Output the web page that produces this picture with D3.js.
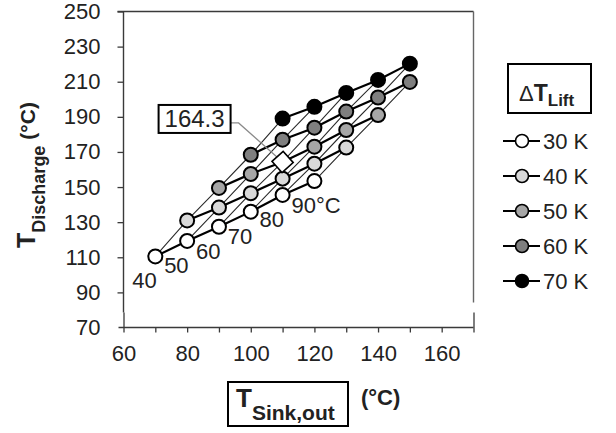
<!DOCTYPE html>
<html>
<head>
<meta charset="utf-8">
<script src="https://cdn.jsdelivr.net/npm/d3@7"></script>
<style>
  body { margin: 0; background: #fff; }
  svg { display: block; font-family: "Liberation Sans", Arial, sans-serif; }
</style>
</head>
<body>
<svg id="chart" width="616" height="433"></svg>
<script>
// Temperature lifts (series) and their legend appearance
const lifts = [30, 40, 50, 60, 70];
const liftLabels = ["30 K", "40 K", "50 K", "60 K", "70 K"];
const liftFills = ["#ffffff", "#d9d9d9", "#a6a6a6", "#7f7f7f", "#000000"];

// Heat source temperatures (°C); sink outlet = source + lift
const sourceTemps = [40, 50, 60, 70, 80, 90];
const sourceLabels = ["40", "50", "60", "70", "80", "90°C"];

// Discharge temperature (°C) per lift, indexed by source temperature
const discharge30 = [110.5, 119.3, 127.4, 136.0, 145.5, 153.4];
const discharge40 = [131.0, 138.3, 146.5, 154.8, 163.3, 172.5];
const discharge50 = [149.5, 157.5, 164.3, 173.0, 182.5, 191.0];
const discharge60 = [168.4, 177.0, 183.8, 193.0, 201.0, 209.9];
const discharge70 = [189.0, 195.7, 203.6, 211.0, 220.3];
const dischargeByLift = [discharge30, discharge40, discharge50, discharge60, discharge70];

// Annotated operating point
const highlightSink = 110;
const highlightValue = 164.3;

// Axis ticks
const xTicks = [60, 80, 100, 120, 140, 160];
const xMinorTicks = [70, 90, 110, 130, 150, 170];
const yTicks = [70, 90, 110, 130, 150, 170, 190, 210, 230, 250];

const svg = d3.select("#chart");
const x = d3.scaleLinear().domain([60, 170]).range([123.5, 473.5]);
const y = d3.scaleLinear().domain([70, 250]).range([327.5, 11.5]);

// Flatten the series into points
const points = [];
dischargeByLift.forEach((vals, i) => {
  vals.forEach((v, j) => {
    points.push({ lift: lifts[i], li: i, source: sourceTemps[j], sink: sourceTemps[j] + lifts[i], value: v });
  });
});

const axisColor = "#3a3a3a";

// ----- axes -----
const yAxis = d3.axisLeft(y).tickValues(yTicks).tickSize(6).tickPadding(17);
const gy = svg.append("g").attr("transform", `translate(${x(60)},0)`).call(yAxis);
gy.select(".domain").remove();
gy.selectAll(".tick line").attr("stroke", axisColor).attr("stroke-width", 1.3);
gy.selectAll(".tick text").attr("font-size", 22).attr("fill", "#222")
  .attr("font-family", "Liberation Sans, Arial, sans-serif");
// the 70 tick is drawn by the x axis line itself
gy.selectAll(".tick").filter(d => d === 70).select("line").remove();

const xAxis = d3.axisBottom(x).tickValues(xTicks.concat(xMinorTicks)).tickSize(5).tickPadding(13)
  .tickFormat(d => xTicks.includes(d) ? d : "");
const gx = svg.append("g").attr("transform", `translate(0,${y(70)})`).call(xAxis);
gx.select(".domain").remove();
gx.selectAll(".tick line").attr("stroke", axisColor).attr("stroke-width", 1.3);
gx.selectAll(".tick text").attr("font-size", 22).attr("fill", "#222")
  .attr("font-family", "Liberation Sans, Arial, sans-serif");
gx.selectAll(".tick").filter(d => d === 60 || d === 170).select("line")
  .attr("y1", -15).attr("y2", 5);

// axis lines with the small break near the bottom
const frame = svg.append("g").attr("stroke", axisColor).attr("stroke-width", 1.4).attr("fill", "none");
frame.append("line").attr("x1", x(60)).attr("x2", x(60)).attr("y1", y(250)).attr("y2", y(70) - 15);
frame.append("line").attr("x1", x(60) - 6).attr("x2", x(170)).attr("y1", y(250)).attr("y2", y(250));
frame.append("line").attr("x1", x(170)).attr("x2", x(170)).attr("y1", y(250)).attr("y2", y(70) - 25)
  .attr("stroke", "#666");
frame.append("line").attr("x1", x(60) - 5).attr("x2", x(170)).attr("y1", y(70)).attr("y2", y(70));

// ----- lines of constant source temperature (thin) -----
const line = d3.line().x(d => x(d.sink)).y(d => y(d.value));
const bySource = d3.groups(points, d => d.source);
svg.append("g").selectAll("path").data(bySource).join("path")
  .attr("d", d => line(d[1].sort((a, b) => a.lift - b.lift)))
  .attr("fill", "none").attr("stroke", "#2a2a2a").attr("stroke-width", 1.1);

// ----- lines of constant lift (thick) -----
const byLift = d3.groups(points, d => d.lift);
svg.append("g").selectAll("path").data(byLift).join("path")
  .attr("d", d => line(d[1].sort((a, b) => a.sink - b.sink)))
  .attr("fill", "none").attr("stroke", "#000").attr("stroke-width", 2.2);

// ----- callout leader -----
const hx = x(highlightSink), hy = y(highlightValue);
const boxW = 72, boxH = 28;
const boxX = hx - 124, boxY = hy - 57;
svg.append("polyline")
  .attr("points", `${boxX + boxW},${boxY + 18} ${boxX + boxW + 8},${boxY + 18} ${hx},${hy}`)
  .attr("fill", "none").attr("stroke", "#8a8a8a").attr("stroke-width", 1.2);

// ----- markers -----
const isHighlight = d => d.sink === highlightSink && d.value === highlightValue;
svg.append("g").selectAll("circle").data(points.filter(d => !isHighlight(d))).join("circle")
  .attr("cx", d => x(d.sink)).attr("cy", d => y(d.value)).attr("r", 7)
  .attr("fill", d => liftFills[d.li]).attr("stroke", "#000").attr("stroke-width", 2);

svg.append("rect")
  .attr("x", -7.5).attr("y", -7.5).attr("width", 15).attr("height", 15)
  .attr("transform", `translate(${hx},${hy}) rotate(48)`)
  .attr("fill", "#fff").attr("stroke", "#000").attr("stroke-width", 1.6);

// callout box
svg.append("rect").attr("x", boxX).attr("y", boxY).attr("width", boxW).attr("height", boxH)
  .attr("fill", "#fff").attr("stroke", "#000").attr("stroke-width", 2);
svg.append("text").attr("x", boxX + boxW / 2).attr("y", boxY + 22.5).attr("text-anchor", "middle")
  .attr("font-size", 24).attr("fill", "#222").text(highlightValue.toFixed(1));

// ----- source temperature labels next to the 30 K points -----
svg.append("g").selectAll("text").data(points.filter(d => d.li === 0)).join("text")
  .attr("x", d => x(d.sink) - 23).attr("y", d => y(d.value) + 32)
  .attr("font-size", 22).attr("fill", "#222")
  .text(d => sourceLabels[sourceTemps.indexOf(d.source)]);

// ----- axis titles -----
const yt = svg.append("text").attr("transform", "translate(35,175) rotate(-90)")
  .attr("text-anchor", "middle").attr("font-weight", "bold").attr("fill", "#222");
yt.append("tspan").attr("font-size", 25).text("T");
yt.append("tspan").attr("font-size", 18).attr("dy", 10).text("Discharge");
yt.append("tspan").attr("font-size", 21).attr("dy", -10).attr("dx", 6).text("(°C)");

svg.append("rect").attr("x", 228).attr("y", 382).attr("width", 120).attr("height", 44)
  .attr("fill", "none").attr("stroke", "#000").attr("stroke-width", 2);
const xt = svg.append("text").attr("x", 236).attr("y", 407).attr("font-weight", "bold").attr("fill", "#222");
xt.append("tspan").attr("font-size", 26).text("T");
xt.append("tspan").attr("font-size", 21).attr("dy", 13).text("Sink,out");
svg.append("text").attr("x", 361).attr("y", 405).attr("font-weight", "bold").attr("font-size", 22)
  .attr("fill", "#222").text("(°C)");

// ----- legend -----
svg.append("rect").attr("x", 508).attr("y", 64).attr("width", 83).attr("height", 49)
  .attr("fill", "none").attr("stroke", "#000").attr("stroke-width", 2);
const lt = svg.append("text").attr("x", 519).attr("y", 101).attr("fill", "#222");
lt.append("tspan").attr("font-size", 22).text("Δ");
lt.append("tspan").attr("font-size", 23).attr("font-weight", "bold").text("T");
lt.append("tspan").attr("font-size", 17).attr("font-weight", "bold").attr("dy", 5).text("Lift");

const leg = svg.append("g").selectAll("g").data(lifts).join("g")
  .attr("transform", (d, i) => `translate(0,${141 + i * 35})`);
leg.append("line").attr("x1", 503).attr("x2", 540).attr("stroke", "#000").attr("stroke-width", 2);
leg.append("circle").attr("cx", 522).attr("r", 6.5)
  .attr("fill", (d, i) => liftFills[i]).attr("stroke", "#000").attr("stroke-width", 1.6);
leg.append("text").attr("x", 543).attr("y", 8).attr("font-size", 22).attr("fill", "#222")
  .text((d, i) => liftLabels[i]);
</script>
</body>
</html>
